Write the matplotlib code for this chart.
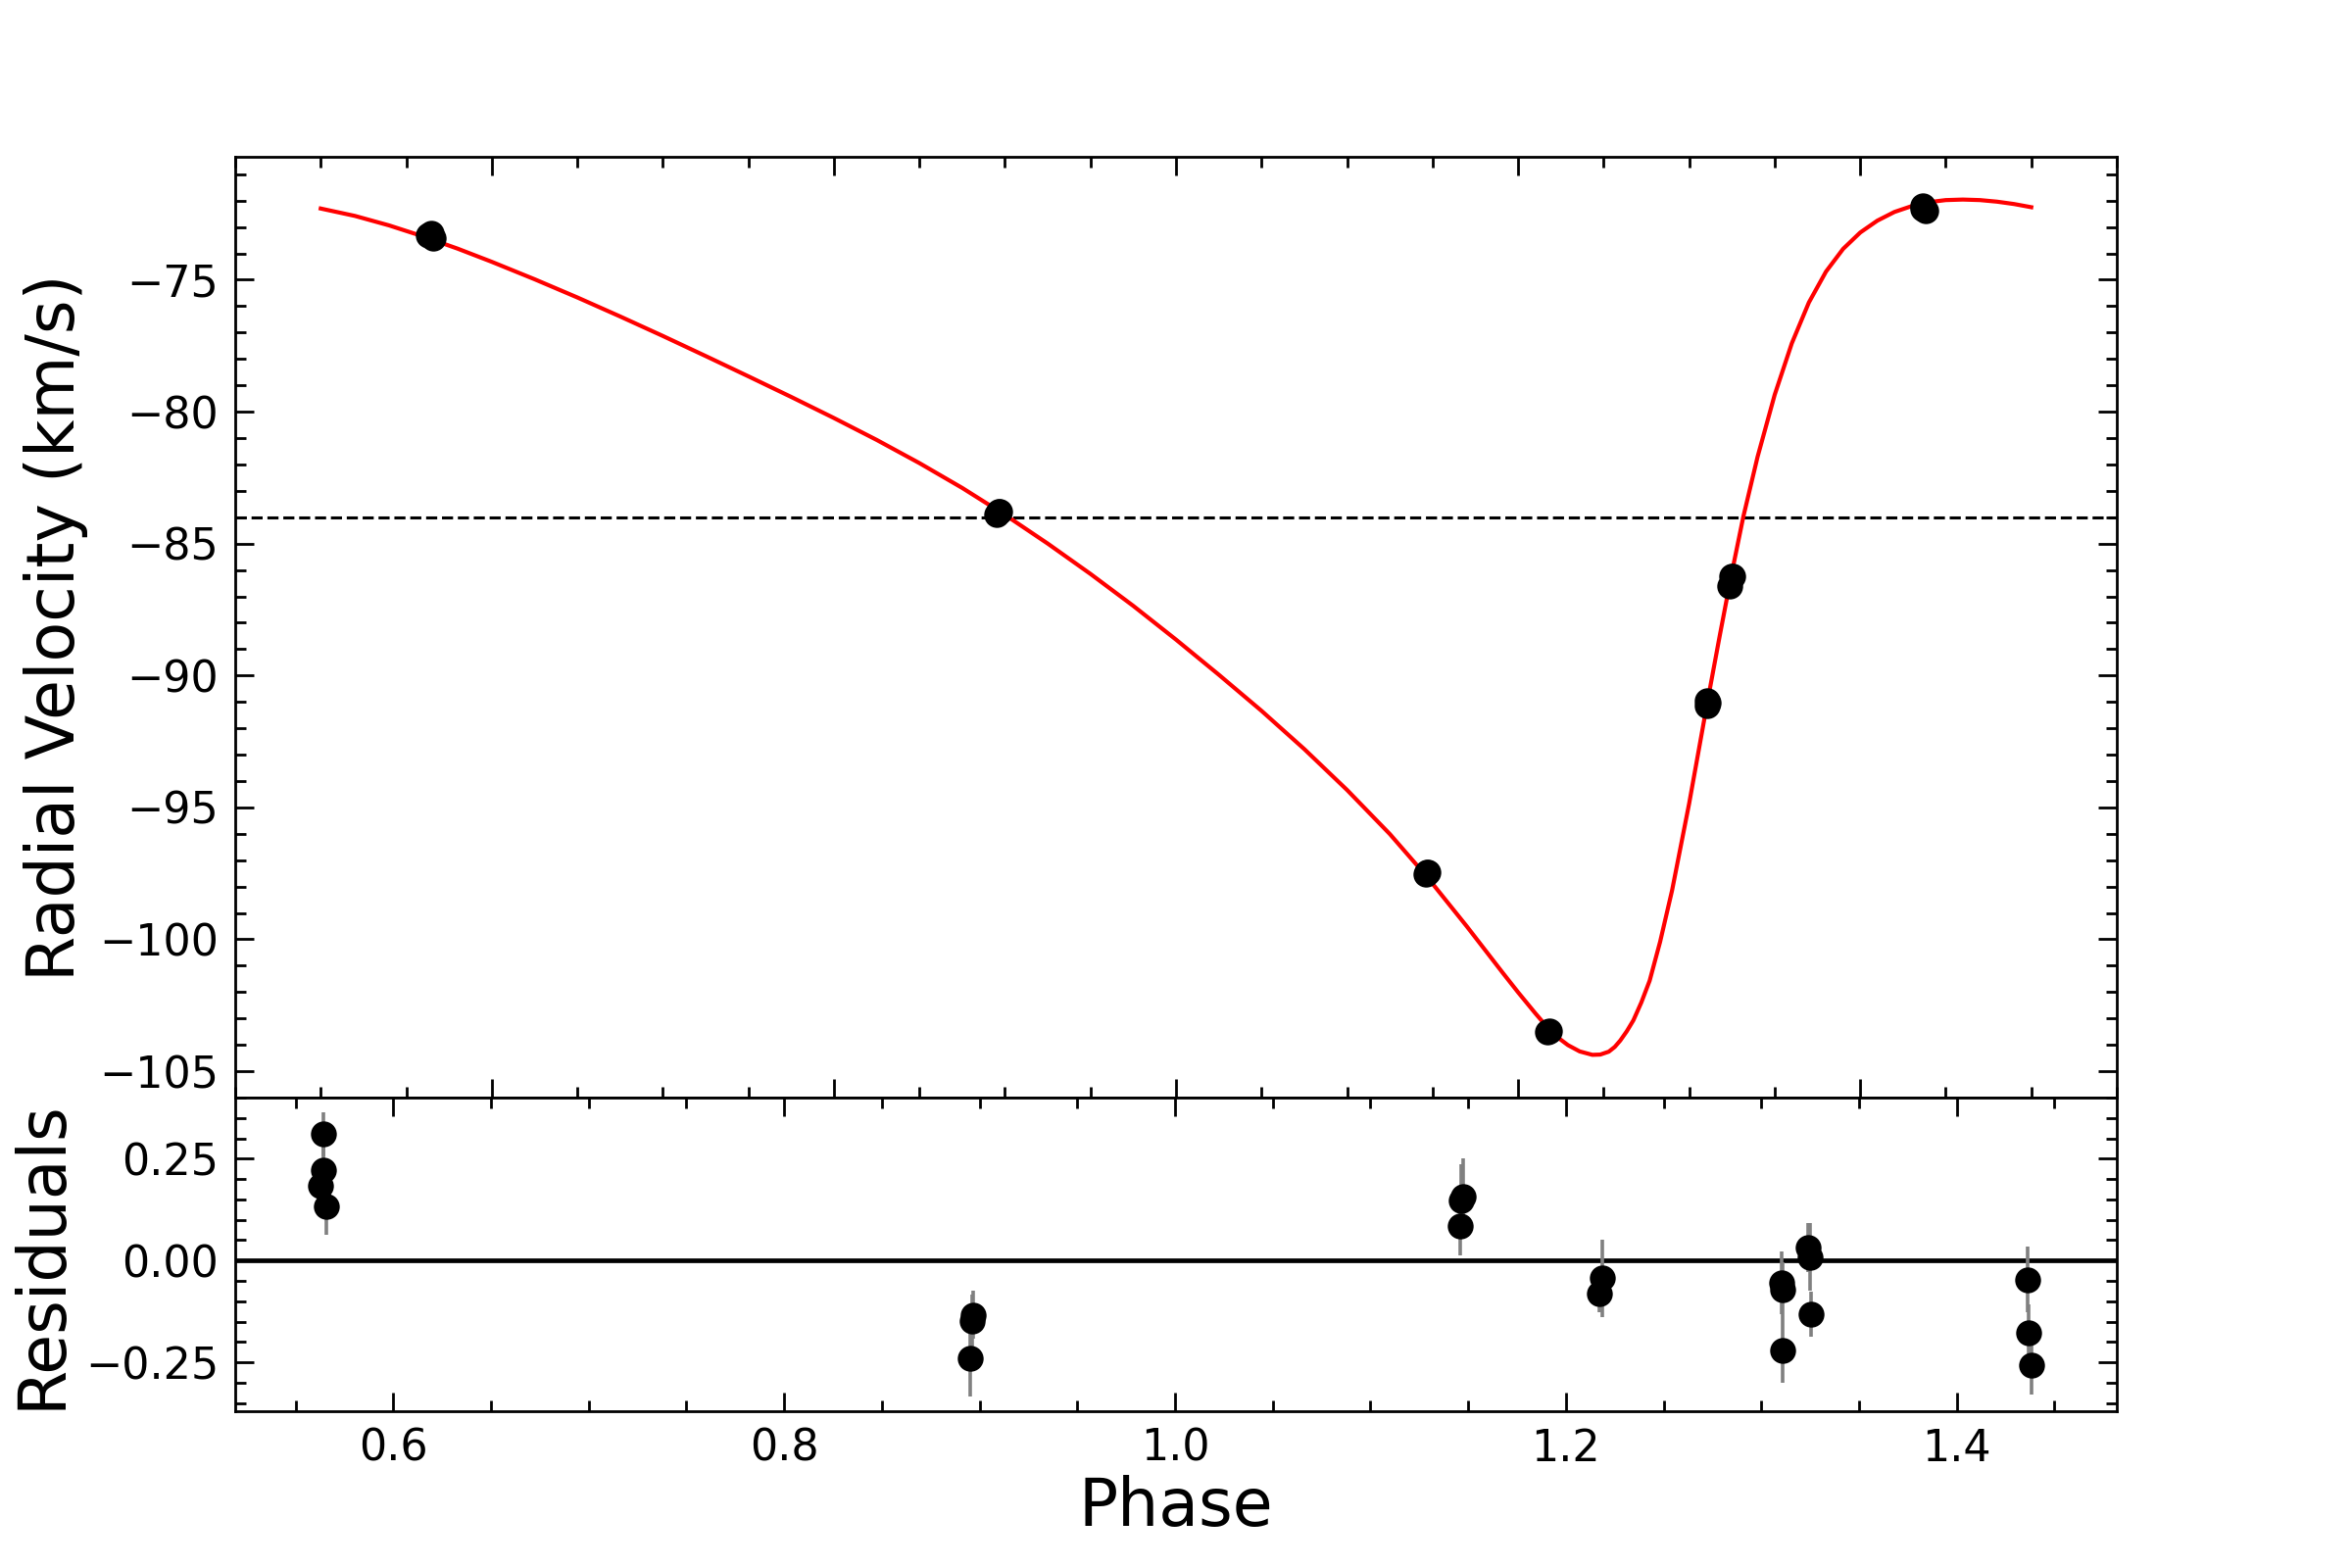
import matplotlib
matplotlib.use('Agg')
import matplotlib.pyplot as plt
from matplotlib.ticker import MultipleLocator

# -------------------------------------------------------------------
# Model curve
# -------------------------------------------------------------------
phase_model = [0.500, 0.520, 0.540, 0.560, 0.580, 0.600, 0.625, 0.650, 0.675,
               0.700, 0.725, 0.750, 0.775, 0.800, 0.825, 0.850, 0.875, 0.900,
               0.925, 0.950, 0.975, 1.000, 1.025, 1.050, 1.075, 1.100, 1.125,
               1.1466, 1.170, 1.191, 1.200, 1.210, 1.2177, 1.224,
               1.2291, 1.236, 1.2434, 1.248, 1.253, 1.2565, 1.2597, 1.2635,
               1.2674, 1.272, 1.2769, 1.283, 1.290, 1.300, 1.3104, 1.318,
               1.3245, 1.3316, 1.340, 1.350, 1.360, 1.370, 1.380, 1.390,
               1.400, 1.410, 1.420, 1.430, 1.440, 1.450, 1.460, 1.470, 1.480,
               1.490, 1.500]
rv_model = [-72.30, -72.58, -72.94, -73.36, -73.82, -74.32, -74.98, -75.67,
            -76.39, -77.13, -77.89, -78.66, -79.44, -80.24, -81.07, -81.95,
            -82.89, -83.91, -85.00, -86.15, -87.36, -88.64, -89.97, -91.34,
            -92.79, -94.34, -96.01, -97.62, -99.51, -101.27, -102.01, -102.80,
            -103.38, -103.76, -104.01, -104.25, -104.38,
            -104.37, -104.26, -104.08, -103.84, -103.49, -103.07, -102.40,
            -101.57, -100.10, -98.15, -94.85, -91.10, -88.45, -86.25, -84.00,
            -81.71, -79.36, -77.41, -75.86, -74.69, -73.83, -73.21, -72.76,
            -72.43, -72.21, -72.06, -71.98, -71.96, -71.98, -72.04, -72.13,
            -72.25]

gamma = -84.0

# -------------------------------------------------------------------
# Observations
# -------------------------------------------------------------------
phase_obs = [0.5643, 0.5643, 0.5629, 0.5659,
             0.8967, 0.8961, 0.8954,
             1.1472, 1.1466, 1.1461,
             1.2184, 1.2170,
             1.3103, 1.3108, 1.3111,
             1.3237, 1.3248, 1.3253,
             1.4364, 1.4368, 1.4381]
rv_obs = [-73.22, -73.31, -73.32, -73.44,
          -83.78, -83.80, -83.88,
          -97.46, -97.47, -97.53,
          -103.47, -103.52,
          -91.15, -90.97, -91.02,
          -86.60, -86.25, -86.23,
          -72.19, -72.32, -72.40]
residuals = [0.310, 0.222, 0.183, 0.132,
             -0.133, -0.148, -0.239,
             0.156, 0.148, 0.084,
             -0.043, -0.082,
             -0.055, -0.071, -0.220,
             0.032, 0.008, -0.132,
             -0.047, -0.178, -0.257]
rv_err = [0.055, 0.060, 0.060, 0.068,
          0.060, 0.065, 0.096,
          0.095, 0.088, 0.072,
          0.095, 0.045,
          0.077, 0.067, 0.081,
          0.061, 0.083, 0.056,
          0.081, 0.070, 0.073]

# -------------------------------------------------------------------
# Figure
# -------------------------------------------------------------------
fig, (ax, axr) = plt.subplots(2, 1, figsize=(12, 8), dpi=200,
                              gridspec_kw={'height_ratios': [3, 1]})
fig.subplots_adjust(left=0.1, right=0.9, top=0.9, bottom=0.1, hspace=0)

ax.plot(phase_model, rv_model, color='red', lw=1.5, zorder=2)
ax.axhline(gamma, color='black', ls='--', lw=1.1, zorder=1)
ax.errorbar(phase_obs, rv_obs, yerr=rv_err, fmt='o', color='black',
            ecolor='gray', elinewidth=1.3, ms=8.5, zorder=3)

axr.errorbar(phase_obs, residuals, yerr=rv_err, fmt='o', color='black',
             ecolor='gray', elinewidth=1.3, ms=8.5, zorder=3)
axr.axhline(0, color='black', lw=1.7, zorder=2)

for a in (ax, axr):
    a.xaxis.set_major_locator(MultipleLocator(0.2))
    a.xaxis.set_minor_locator(MultipleLocator(0.05))
    a.tick_params(which='both', direction='in', top=True, right=True,
                  width=1.0, labelsize=16, pad=6)
    a.tick_params(which='major', length=7)
    a.tick_params(which='minor', length=3.8)
    for s in a.spines.values():
        s.set_linewidth(1.0)

ax.yaxis.set_major_locator(MultipleLocator(5))
ax.yaxis.set_minor_locator(MultipleLocator(1))
ax.tick_params(labelbottom=False)
axr.yaxis.set_major_locator(MultipleLocator(0.25))
axr.yaxis.set_minor_locator(MultipleLocator(0.05))

ax.set_ylabel('Radial Velocity (km/s)', fontsize=24)
axr.set_ylabel('Residuals', fontsize=24)
axr.set_xlabel('Phase', fontsize=24, labelpad=2)

fig.savefig('out.png', dpi=200, facecolor='white')
